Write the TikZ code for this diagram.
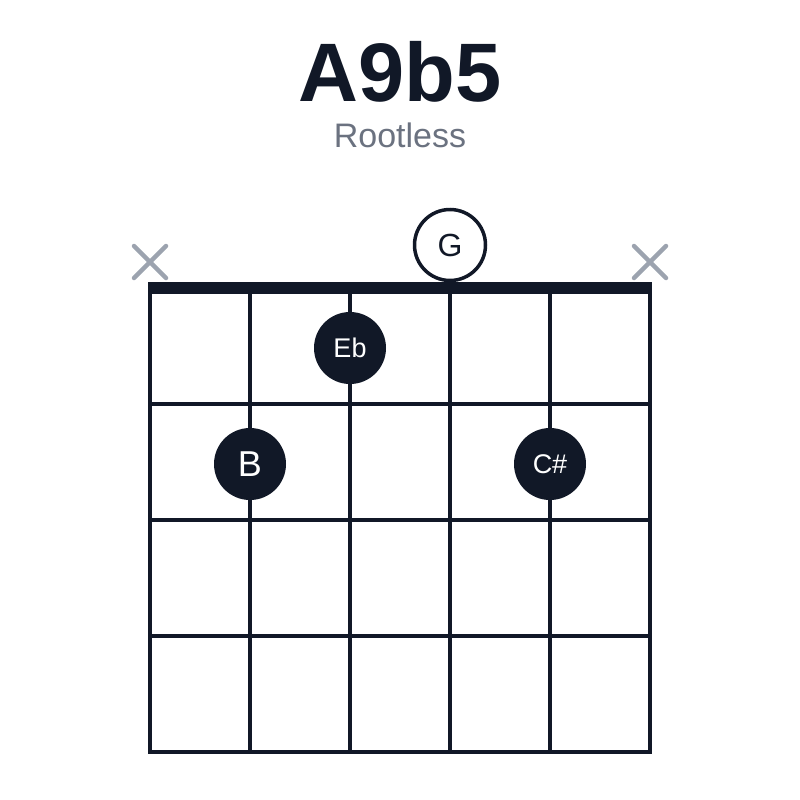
\documentclass[tikz,border=0pt]{standalone}
\usepackage{fontspec}
\setmainfont{Liberation Sans}
\definecolor{ink}{HTML}{111827}
\definecolor{muted}{HTML}{6B7280}
\definecolor{mutex}{HTML}{9CA3AF}

\begin{document}
\begin{tikzpicture}[x=1pt,y=-1pt,
	fingerdot/.style={circle,fill=ink,text=white,minimum size=72pt,inner sep=0pt},
	opendot/.style={circle,draw=ink,line width=3.5pt,fill=white,text=ink,minimum size=71pt,inner sep=0pt},
	mutemark/.style={draw=mutex,line width=4.5pt,line cap=round},
	gridline/.style={draw=ink,line width=3.5pt}]
	\useasboundingbox (0,0) rectangle (800,800);
	% title
	\node[anchor=base,text=ink,font=\fontsize{83}{83}\selectfont\bfseries] (title) at (400,101) {A9b5};
	\node[anchor=base,text=muted,font=\fontsize{34}{34}\selectfont] (subtitle) at (400,147) {Rootless};
	% strings and frets
	\foreach \s in {0,...,5} {
		\coordinate (s\s top) at (150+100*\s,288);
		\coordinate (s\s bot) at (150+100*\s,752);
		\draw[gridline] (s\s top) -- (s\s bot);
	}
	\foreach \f in {1,...,4} {
		\coordinate (f\f l) at (148.25,288+116*\f);
		\coordinate (f\f r) at (651.75,288+116*\f);
		\draw[gridline] (f\f l) -- (f\f r);
	}
	% nut
	\coordinate (nut l) at (148,282);
	\coordinate (nut r) at (652,294);
	\fill[ink] (nut l) rectangle (nut r);
	% muted strings
	\coordinate (x1) at (150,262);
	\coordinate (x6) at (650,262);
	\draw[mutemark] ([shift={(-16,-16)}]x1) -- ([shift={(16,16)}]x1);
	\draw[mutemark] ([shift={(-16,16)}]x1) -- ([shift={(16,-16)}]x1);
	\draw[mutemark] ([shift={(-16,-16)}]x6) -- ([shift={(16,16)}]x6);
	\draw[mutemark] ([shift={(-16,16)}]x6) -- ([shift={(16,-16)}]x6);
	% open and fretted notes
	\node[opendot,font=\fontsize{32}{32}\selectfont] (g) at (450,245) {G};
	\node[fingerdot,font=\fontsize{27}{27}\selectfont] (eb) at (350,348) {Eb};
	\node[fingerdot,font=\fontsize{36}{36}\selectfont] (b) at (250,464) {B};
	\node[fingerdot,font=\fontsize{27}{27}\selectfont] (cs) at (550,464) {C\#};
\end{tikzpicture}
\end{document}
